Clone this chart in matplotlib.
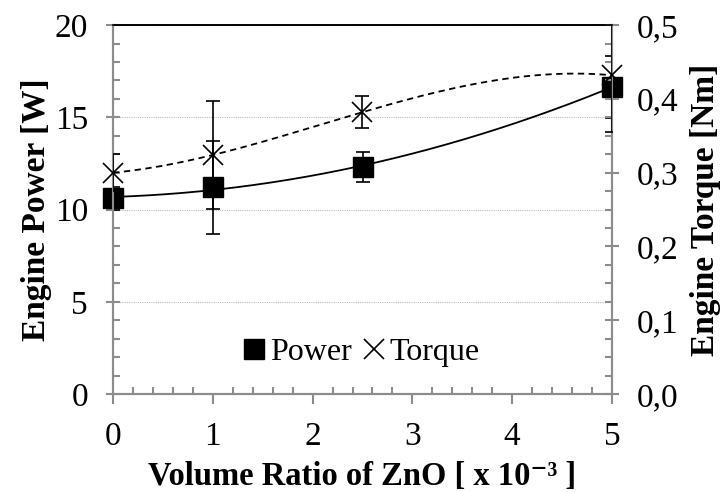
import numpy as np
import matplotlib
matplotlib.use("Agg")
import matplotlib.pyplot as plt
import matplotlib.ticker as ticker

plt.rcParams['font.family'] = ['Liberation Serif', 'DejaVu Serif']

# data
zno_ratio = [0, 1, 2.5, 5]
power = [10.62, 11.2, 12.3, 16.65]
power_err = [0.62, 2.5, 0.8, 1.7]
torque = [0.300, 0.324, 0.382, 0.432]
torque_err = [0.025, 0.073, 0.022, 0.077]

GRAY = "#8c8c8c"
FS_TICK = 24
FS_LABEL = 23.5

fig = plt.figure(figsize=(7.25, 4.92), dpi=100)
ax = fig.add_axes([0.156, 0.199, 0.688, 0.750])
ax2 = ax.twinx()

# trend lines (polynomial fits, like the spreadsheet trendlines)
xs = np.linspace(0, 5, 200)
p_fit = np.polyfit(zno_ratio, power, 2)
t_fit = np.polyfit(zno_ratio, torque, 3)
ax.plot(xs, np.polyval(p_fit, xs), color="black", lw=1.3, zorder=3)
ax2.plot(xs, np.polyval(t_fit, xs), color="black", lw=1.3, ls=(0, (3.5, 2.5)), zorder=3)

pw = ax.errorbar(zno_ratio, power, yerr=power_err, fmt="s", color="black", ms=14,
                 ecolor="black", elinewidth=1.2, capsize=5, capthick=1.2, zorder=4)
pw[0].set_clip_on(False)
tq = ax2.errorbar(zno_ratio, torque, yerr=torque_err, fmt="x", color="black", ms=15,
                  mew=1.2, ecolor="black", elinewidth=1.2, capsize=5, capthick=1.2,
                  zorder=4)
tq[0].set_clip_on(False)

ax.set_xlim(0, 5)
ax.set_ylim(0, 20)
ax2.set_ylim(0, 0.5)

ax.yaxis.set_major_locator(ticker.MultipleLocator(5))
ax.yaxis.set_minor_locator(ticker.MultipleLocator(1))
ax.xaxis.set_major_locator(ticker.MultipleLocator(1))
ax.xaxis.set_minor_locator(ticker.MultipleLocator(0.2))
ax2.yaxis.set_major_locator(ticker.MultipleLocator(0.1))
ax2.yaxis.set_minor_locator(ticker.MultipleLocator(0.025))
ax2.yaxis.set_major_formatter(ticker.FuncFormatter(lambda v, _: f"{v:.1f}".replace(".", ",")))

for a in (ax, ax2):
    for s in ("left", "right", "bottom"):
        a.spines[s].set_color(GRAY)
        a.spines[s].set_linewidth(1.5)
    a.spines["top"].set_color("black")
    a.spines["top"].set_linewidth(1.2)

ax.tick_params(axis="y", which="major", direction="inout", length=10, width=1.5,
               color=GRAY, labelsize=FS_TICK, pad=13)
ax.tick_params(axis="y", which="minor", direction="in", length=5, width=1.5, color=GRAY)
ax.tick_params(axis="x", which="major", direction="out", length=7, width=1.5,
               color=GRAY, labelsize=FS_TICK, pad=13)
ax.tick_params(axis="x", which="minor", direction="in", length=5, width=1.5, color=GRAY)
ax2.tick_params(axis="y", which="major", direction="inout", length=10, width=1.5,
                color=GRAY, labelsize=FS_TICK, pad=13)
ax2.tick_params(axis="y", which="minor", direction="in", length=5, width=1.5, color=GRAY)

ax.grid(axis="y", which="major", color="#bdbdbd", lw=0.8, ls=(0, (1, 1)))
ax.set_axisbelow(True)

ax.set_xlabel("Volume Ratio of ZnO [ x 10⁻³ ]", fontsize=FS_LABEL, fontweight="bold",
              labelpad=6)
ax.set_ylabel("Engine Power [W]", fontsize=24, fontweight="bold", labelpad=2)
ax2.set_ylabel("Engine Torque [Nm]", fontsize=24, fontweight="bold", labelpad=8)

h1 = plt.Line2D([], [], marker="s", color="black", ls="none", ms=14)
h2 = plt.Line2D([], [], marker="x", color="black", ls="none", ms=15, mew=1.2)
fig.legend([h1, h2], ["Power", "Torque"], loc="center", bbox_to_anchor=(0.497, 0.283),
           ncol=2, frameon=False, fontsize=23, handlelength=0.8, handletextpad=0.1,
           columnspacing=0.3)

fig.savefig("out.png", dpi=100)
